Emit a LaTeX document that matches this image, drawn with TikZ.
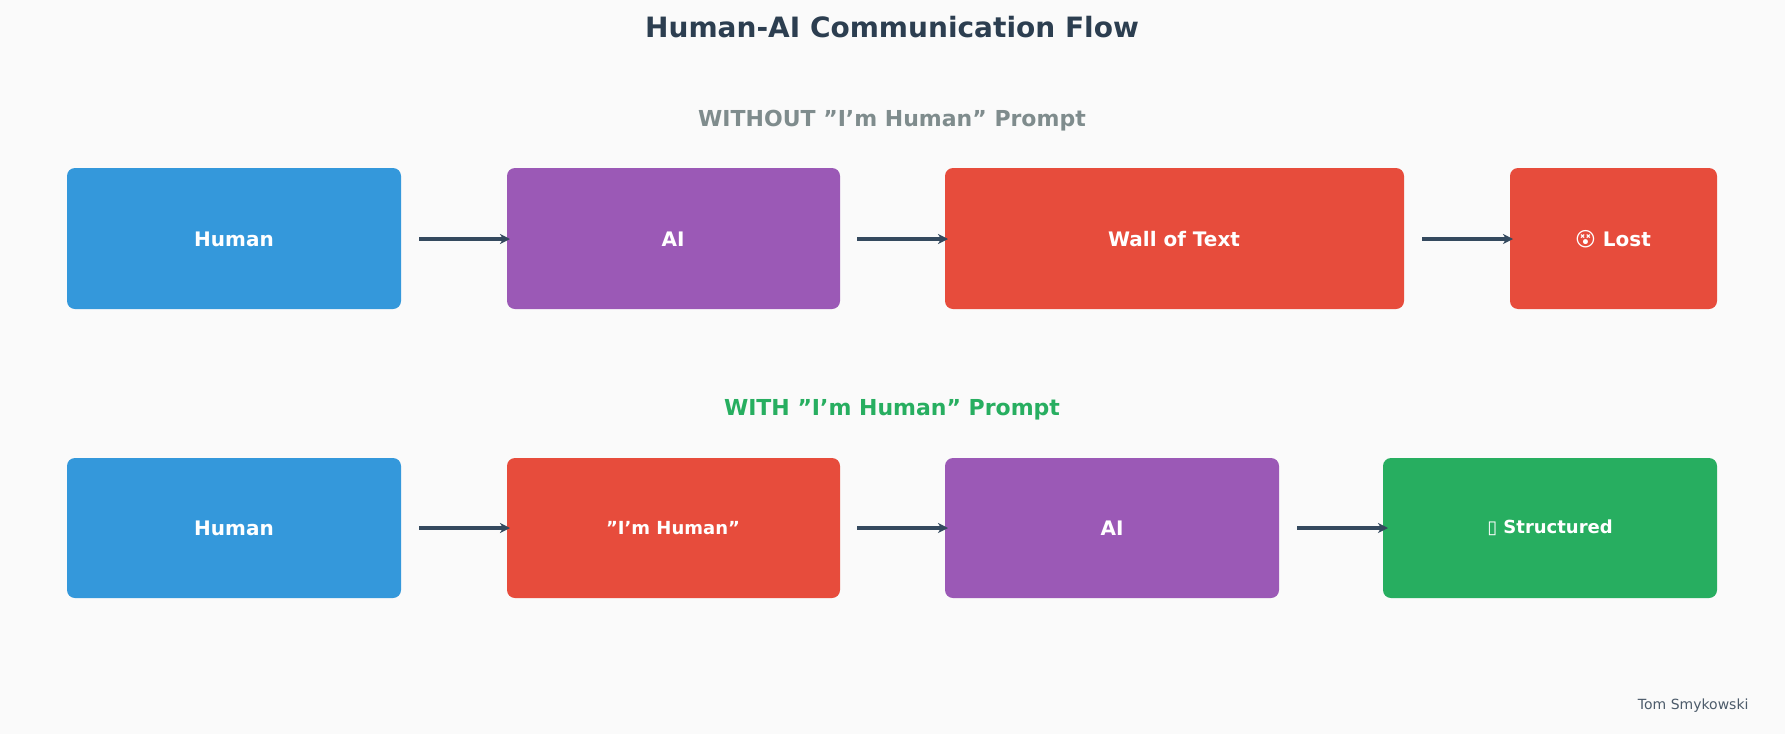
\documentclass[tikz,border=0pt]{standalone}
\usepackage{fontspec}
\setmainfont{DejaVu Sans}
\usetikzlibrary{arrows.meta}
\definecolor{cblue}{HTML}{3498DB}
\definecolor{cpurple}{HTML}{9B59B6}
\definecolor{cred}{HTML}{E74C3C}
\definecolor{cgreen}{HTML}{27AE60}
\definecolor{carrow}{HTML}{34495E}
\definecolor{ctitle}{HTML}{2C3E50}
\definecolor{cgray}{HTML}{7F8C8D}
\definecolor{cbg}{HTML}{FAFAFA}
\begin{document}
\begin{tikzpicture}[x=1pt,y=-1pt,
  box/.style={rounded corners=8pt,draw=none,text=white,font=\fontsize{20}{24}\bfseries},
  arr/.style={draw=carrow,line width=3.5pt,-{Stealth[length=10pt,width=10pt,inset=3pt]}}]
\fill[cbg] (0,0) rectangle (1785,734);
\useasboundingbox (0,0) rectangle (1785,734);
\node[text=ctitle,font=\fontsize{28}{32}\bfseries] (t) at (892,27) {Human-AI Communication Flow};
\node[text=cgray,font=\fontsize{22}{26}\bfseries] (s1) at (892,121) {WITHOUT "I'm Human" Prompt};
\node[text=cgreen,font=\fontsize{22}{26}\bfseries] (s2) at (892,410) {WITH "I'm Human" Prompt};
% row 1
\fill[cblue,rounded corners=8pt] (67,168) rectangle (401,309);
\node[box] (h1) at (234,239) {Human};
\fill[cpurple,rounded corners=8pt] (507,168) rectangle (840,309);
\node[box] (a1) at (673,239) {AI};
\fill[cred,rounded corners=8pt] (945,168) rectangle (1404,309);
\node[box] (w1) at (1174,239) {Wall of Text};
\fill[cred,rounded corners=8pt] (1510,168) rectangle (1717,309);
\node[box] (l1) at (1613,239) {😵 Lost};
\coordinate (p1) at (419,239); \coordinate (q1) at (510,239);
\coordinate (p2) at (857,239); \coordinate (q2) at (948,239);
\coordinate (p3) at (1422,239); \coordinate (q3) at (1513,239);
\draw[arr] (p1) -- (q1); \draw[arr] (p2) -- (q2); \draw[arr] (p3) -- (q3);
% row 2
\fill[cblue,rounded corners=8pt] (67,458) rectangle (401,598);
\node[box] (h2) at (234,528) {Human};
\fill[cred,rounded corners=8pt] (507,458) rectangle (840,598);
\node[box,font=\fontsize{18}{22}\bfseries] (i2) at (673,528) {"I'm Human"};
\fill[cpurple,rounded corners=8pt] (945,458) rectangle (1279,598);
\node[box] (a2) at (1112,528) {AI};
\fill[cgreen,rounded corners=8pt] (1383,458) rectangle (1717,598);
\node[box,font=\fontsize{18}{22}\bfseries] (s3) at (1550,528) {▯ Structured};
\coordinate (r1) at (419,528); \coordinate (u1) at (510,528);
\coordinate (r2) at (857,528); \coordinate (u2) at (948,528);
\coordinate (r3) at (1297,528); \coordinate (u3) at (1388,528);
\draw[arr] (r1) -- (u1); \draw[arr] (r2) -- (u2); \draw[arr] (r3) -- (u3);
\node[anchor=east,text=ctitle!85,font=\fontsize{14}{16}\selectfont] (c) at (1752,706) {Tom Smykowski};
\end{tikzpicture}
\end{document}
